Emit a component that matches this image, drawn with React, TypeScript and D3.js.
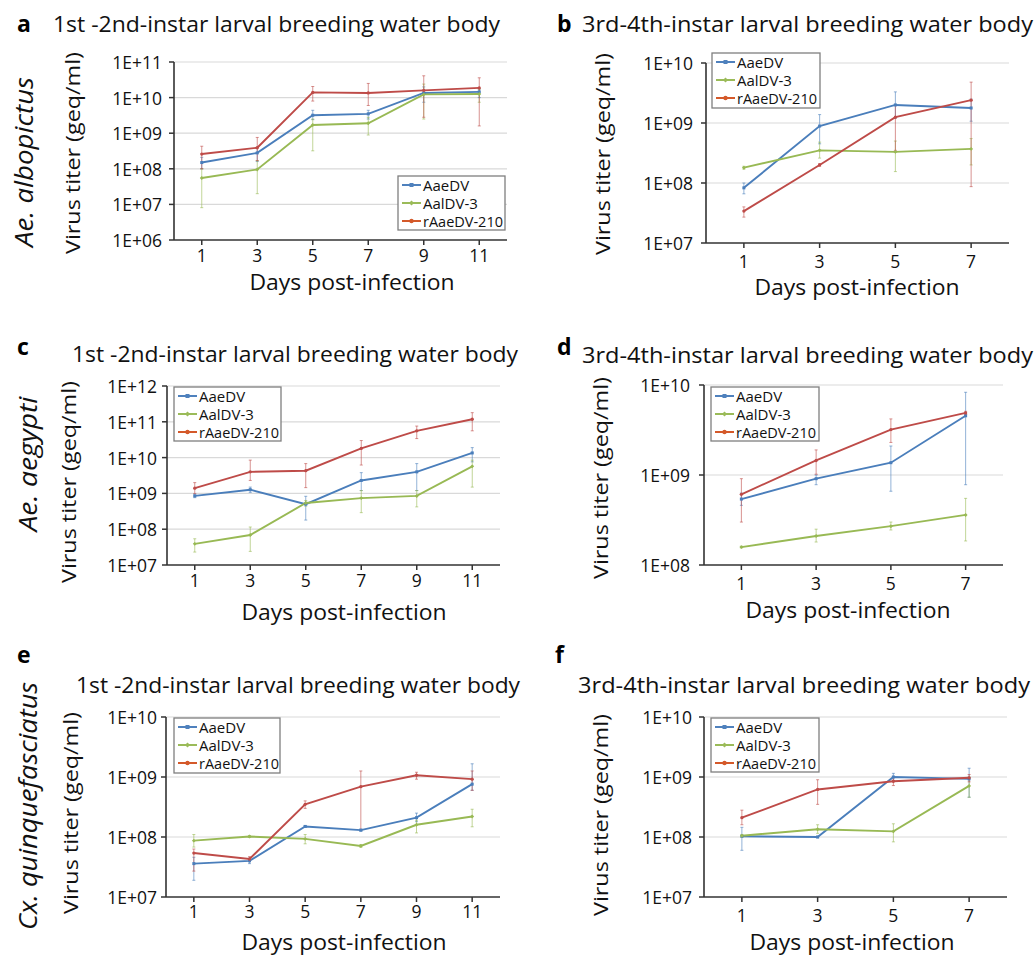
import React from "react";
import * as d3 from "d3";

// ---------- data ----------
const seriesNames = ["AaeDV", "AalDV-3", "rAaeDV-210"];
const daysLong = [1, 3, 5, 7, 9, 11];
const daysShort = [1, 3, 5, 7];
const yTicksA = [1e6, 1e7, 1e8, 1e9, 1e10, 1e11];
const yTicksB = [1e7, 1e8, 1e9, 1e10];
const yTicksC = [1e7, 1e8, 1e9, 1e10, 1e11, 1e12];
const yTicksD = [1e8, 1e9, 1e10];
const yTicksE = [1e7, 1e8, 1e9, 1e10];
const yTicksF = [1e7, 1e8, 1e9, 1e10];

const titleEarly = "1st -2nd-instar larval breeding water body";
const titleLate = "3rd-4th-instar larval breeding water body";
const yAxisTitle = "Virus titer (geq/ml)";
const xAxisTitle = "Days post-infection";

// [mean, lower, upper]
const a_AaeDV = [[1.5e8, 1.0e8, 2.1e8], [2.8e8, 1.6e8, 4.0e8], [3.2e9, 2.4e9, 4.4e9], [3.5e9, 2.5e9, 4.4e9], [1.35e10, 7.4e9, 2.0e10], [1.45e10, 1.0e10, 1.75e10]];
const a_AalDV3 = [[5.5e7, 8.1e6, 1.0e8], [9.6e7, 2.0e7, 1.7e8], [1.7e9, 3.2e8, 2.5e9], [1.9e9, 8.9e8, 2.8e9], [1.23e10, 2.5e9, 2.4e10], [1.26e10, 7.4e9, 1.75e10]];
const a_rAaeDV = [[2.6e8, 1.0e8, 4.3e8], [3.9e8, 1.7e8, 7.6e8], [1.4e10, 8e9, 2.05e10], [1.35e10, 6e9, 2.5e10], [1.6e10, 2.8e9, 4.1e10], [1.87e10, 1.6e9, 3.6e10]];

const b_AaeDV = [[8.3e7, 6.6e7, 1.0e8], [8.9e8, 4.5e8, 1.38e9], [2.0e9, 1.2e9, 3.3e9], [1.78e9, 1.07e9, 2.5e9]];
const b_AalDV3 = [[1.8e8, 1.7e8, 1.9e8], [3.5e8, 2.6e8, 4.8e8], [3.3e8, 1.55e8, 5.0e8], [3.7e8, 2.0e8, 5.5e8]];
const b_rAaeDV = [[3.4e7, 2.7e7, 4.0e7], [2.0e8, 1.9e8, 2.1e8], [1.25e9, 3.5e8, 2.0e9], [2.4e9, 8.7e7, 4.8e9]];

const c_AaeDV = [[8.5e8, 7.6e8, 9.6e8], [1.27e9, 1.07e9, 1.5e9], [5.0e8, 1.8e8, 8.3e8], [2.3e9, 1.2e9, 3.8e9], [4.0e9, 1.2e9, 6.8e9], [1.35e10, 7.6e9, 1.9e10]];
const c_AalDV3 = [[3.9e7, 2.3e7, 5.4e7], [6.9e7, 2.4e7, 1.15e8], [5.4e8, 4.4e8, 6.3e8], [7.4e8, 2.9e8, 1.2e9], [8.5e8, 4.2e8, 1.2e9], [5.7e9, 1.5e9, 8.5e9]];
const c_rAaeDV = [[1.4e9, 9.8e8, 2.0e9], [4.0e9, 2.3e9, 8.5e9], [4.3e9, 1.45e9, 6.8e9], [1.8e10, 6.2e9, 3.0e10], [5.6e10, 3.4e10, 7.6e10], [1.18e11, 5.6e10, 1.8e11]];

const d_AaeDV = [[5.4e8, 4.6e8, 6.3e8], [9.1e8, 7.8e8, 1.0e9], [1.37e9, 6.6e8, 2.1e9], [4.55e9, 7.8e8, 8.3e9]];
const d_AalDV3 = [[1.58e8, 1.55e8, 1.62e8], [2.1e8, 1.8e8, 2.5e8], [2.7e8, 2.45e8, 3.0e8], [3.6e8, 1.85e8, 5.5e8]];
const d_rAaeDV = [[6.1e8, 3.0e8, 9.1e8], [1.45e9, 1.02e9, 1.9e9], [3.2e9, 2.3e9, 4.2e9], [4.9e9, 4.7e9, 5.1e9]];

const e_AaeDV = [[3.6e7, 1.9e7, 4.6e7], [4.0e7, 3.6e7, 4.4e7], [1.5e8, 1.45e8, 1.55e8], [1.3e8, 1.25e8, 1.35e8], [2.1e8, 1.8e8, 2.5e8], [7.6e8, 6.0e8, 1.66e9]];
const e_AalDV3 = [[8.7e7, 6.8e7, 1.1e8], [1.02e8, 9.8e7, 1.06e8], [9.3e7, 7.7e7, 1.1e8], [7.1e7, 6.7e7, 7.5e7], [1.6e8, 1.17e8, 1.9e8], [2.2e8, 1.48e8, 2.9e8]];
const e_rAaeDV = [[5.4e7, 2.7e7, 6.3e7], [4.3e7, 3.9e7, 4.7e7], [3.5e8, 3.0e8, 4.0e8], [6.9e8, 1.3e8, 1.26e9], [1.07e9, 9.2e8, 1.2e9], [9.2e8, 6.0e8, 1.26e9]];

const f_AaeDV = [[1.03e8, 6.0e7, 1.45e8], [1.0e8, 9.7e7, 1.03e8], [1.0e9, 8.8e8, 1.15e9], [9.3e8, 4.6e8, 1.4e9]];
const f_AalDV3 = [[1.05e8, 1.0e8, 1.1e8], [1.35e8, 1.15e8, 1.6e8], [1.24e8, 8.3e7, 1.66e8], [7.1e8, 4.6e8, 1.0e9]];
const f_rAaeDV = [[2.1e8, 1.6e8, 2.8e8], [6.2e8, 3.5e8, 9.0e8], [8.5e8, 7.2e8, 1.0e9], [9.7e8, 8.3e8, 1.1e9]];

// ---------- styles ----------
const lineColors = ["#4A7EBB", "#98B954", "#BE4B48"];
const legendColors = ["#4F81BD", "#9BBB59", "#D4592A"];
const FONT = "'Open Sans', 'Noto Sans', sans-serif";

const panels = [
  {
    letter: "a", title: titleEarly, days: daysLong, ticks: yTicksA, data: [a_AaeDV, a_AalDV3, a_rAaeDV],
    x0: 174, x1: 507, yTop: 62, yBot: 240,
    letterPos: [17, 32], titlePos: [53, 32, 447], species: { text: "albopictus", pre: "Ae. ", x: 23, y: 162, w: 170 },
    ylab: [72, 153], xlabY: 262, xtitle: [352, 290], tickRight: 162, legend: [398, 176, 107, 54],
  },
  {
    letter: "b", title: titleLate, days: daysShort, ticks: yTicksB, data: [b_AaeDV, b_AalDV3, b_rAaeDV],
    x0: 706, x1: 1009, yTop: 63, yBot: 243,
    letterPos: [557, 32], titlePos: [582, 32, 451], species: null,
    ylab: [602, 154], xlabY: 268, xtitle: [857, 295], tickRight: 693, legend: [712, 53, 108, 55],
  },
  {
    letter: "c", title: titleEarly, days: daysLong, ticks: yTicksC, data: [c_AaeDV, c_AalDV3, c_rAaeDV],
    x0: 167, x1: 500, yTop: 386, yBot: 565,
    letterPos: [17, 355], titlePos: [72, 362, 446], species: { text: "aegypti", pre: "Ae. ", x: 27, y: 464, w: 135 },
    ylab: [68, 482], xlabY: 587, xtitle: [344, 620], tickRight: 157, legend: [174, 387, 107, 54],
  },
  {
    letter: "d", title: titleLate, days: daysShort, ticks: yTicksD, data: [d_AaeDV, d_AalDV3, d_rAaeDV],
    x0: 704, x1: 1003, yTop: 385, yBot: 565,
    letterPos: [557, 355], titlePos: [582, 363, 451], species: null,
    ylab: [600, 478], xlabY: 590, xtitle: [848, 618], tickRight: 690, legend: [711, 387, 108, 54],
  },
  {
    letter: "e", title: titleEarly, days: daysLong, ticks: yTicksE, data: [e_AaeDV, e_AalDV3, e_rAaeDV],
    x0: 166, x1: 500, yTop: 717, yBot: 897,
    letterPos: [17, 663], titlePos: [76, 693, 444], species: { text: "quinquefasciatus", pre: "Cx. ", x: 27, y: 806, w: 248 },
    ylab: [70, 813], xlabY: 918, xtitle: [344, 950], tickRight: 157, legend: [174, 718, 106, 55],
  },
  {
    letter: "f", title: titleLate, days: daysShort, ticks: yTicksF, data: [f_AaeDV, f_AalDV3, f_rAaeDV],
    x0: 704, x1: 1007, yTop: 717, yBot: 897,
    letterPos: [555, 663], titlePos: [578, 693, 452], species: null,
    ylab: [600, 815], xlabY: 922, xtitle: [852, 950], tickRight: 692, legend: [711, 718, 108, 54],
  },
];

const fmtTick = (v: number) => {
  const e = Math.round(Math.log10(v));
  return "1E+" + String(e).padStart(2, "0");
};

function Marker({ i, x, y, color, s = 1 }: { i: number; x: number; y: number; color: string; s?: number }) {
  if (i === 0) return <rect x={x - 2 * s} y={y - 2 * s} width={4 * s} height={4 * s} fill={color} />;
  if (i === 1)
    return (
      <path
        d={`M${x},${y - 2.6 * s}L${x + 2.6 * s},${y}L${x},${y + 2.6 * s}L${x - 2.6 * s},${y}Z`}
        fill={color}
      />
    );
  return <circle cx={x} cy={y} r={2.2 * s} fill={color} />;
}

function Panel({ p }: { p: any }) {
  const x = d3.scaleBand<number>().domain(p.days).range([p.x0, p.x1]).padding(0);
  const cx = (d: number) => (x(d) as number) + x.bandwidth() / 2;
  const yMin = p.ticks[0];
  const yMax = p.ticks[p.ticks.length - 1];
  const y = d3.scaleLog().domain([yMin, yMax]).range([p.yBot, p.yTop]);
  const line = d3
    .line<number[]>()
    .x((_, i) => cx(p.days[i]))
    .y((d) => y(d[0]));
  const [lx, ly, lw, lh] = p.legend;
  return (
    <g>
      {/* letter + title */}
      <text x={p.letterPos[0]} y={p.letterPos[1]} fontSize={23} fontWeight={700} fontFamily={FONT} fill="#000">
        {p.letter}
      </text>
      <text
        x={p.titlePos[0]}
        y={p.titlePos[1]}
        fontSize={21}
        fontFamily={FONT}
        fill="#111"
        textLength={p.titlePos[2]}
        lengthAdjust="spacingAndGlyphs"
      >
        {p.title}
      </text>
      {p.species && (
        <text
          transform={`translate(${p.species.x},${p.species.y}) rotate(-90)`}
          textAnchor="middle"
          dominantBaseline="central"
          fontSize={26}
          fontFamily={FONT}
          fontStyle="italic"
          fill="#111"
          textLength={p.species.w}
          lengthAdjust="spacingAndGlyphs"
        >
          {p.species.pre}
          {p.species.text}
        </text>
      )}
      <text
        transform={`translate(${p.ylab[0]},${p.ylab[1]}) rotate(-90)`}
        textAnchor="middle"
        dominantBaseline="central"
        fontSize={20.5}
        fontFamily={FONT}
        fill="#111"
        textLength={202}
        lengthAdjust="spacingAndGlyphs"
      >
        {yAxisTitle}
      </text>
      {/* grid */}
      {p.ticks.slice(1).map((t: number) => (
        <line key={"g" + t} x1={p.x0} x2={p.x1} y1={y(t)} y2={y(t)} stroke="#D9D9D9" strokeWidth={1.2} />
      ))}
      {/* y ticks + labels */}
      {p.ticks.map((t: number) => (
        <g key={"t" + t}>
          <line x1={p.x0 - 5} x2={p.x0} y1={y(t)} y2={y(t)} stroke="#333" strokeWidth={1.5} />
          <text
            x={p.tickRight}
            y={y(t)}
            textAnchor="end"
            dominantBaseline="central"
            fontSize={17.5}
            fontFamily={FONT}
            fill="#111"
          >
            {fmtTick(t)}
          </text>
        </g>
      ))}
      {/* x ticks + labels */}
      {p.days.map((d: number) => (
        <g key={"x" + d}>
          <line x1={cx(d)} x2={cx(d)} y1={p.yBot} y2={p.yBot + 5} stroke="#333" strokeWidth={1.5} />
          <text x={cx(d)} y={p.xlabY} textAnchor="middle" fontSize={17.5} fontFamily={FONT} fill="#111">
            {d}
          </text>
        </g>
      ))}
      <text
        x={p.xtitle[0]}
        y={p.xtitle[1]}
        textAnchor="middle"
        fontSize={21}
        fontFamily={FONT}
        fill="#111"
        textLength={205}
        lengthAdjust="spacingAndGlyphs"
      >
        {xAxisTitle}
      </text>
      {/* axes */}
      <line x1={p.x0} x2={p.x0} y1={p.yTop} y2={p.yBot} stroke="#333" strokeWidth={1.6} />
      <line x1={p.x0} x2={p.x1} y1={p.yBot} y2={p.yBot} stroke="#333" strokeWidth={1.6} />
      {/* error bars */}
      {p.data.map((s: number[][], si: number) =>
        s.map((d, i) => {
          const xx = cx(p.days[i]);
          return (
            <g key={`e${si}-${i}`} stroke={lineColors[si]} strokeOpacity={0.6} strokeWidth={1}>
              <line x1={xx} x2={xx} y1={y(d[1])} y2={y(d[2])} />
              <line x1={xx - 1.5} x2={xx + 1.5} y1={y(d[1])} y2={y(d[1])} />
              <line x1={xx - 1.5} x2={xx + 1.5} y1={y(d[2])} y2={y(d[2])} />
            </g>
          );
        })
      )}
      {/* lines */}
      {p.data.map((s: number[][], si: number) => (
        <path key={"l" + si} d={line(s) || ""} fill="none" stroke={lineColors[si]} strokeWidth={1.9} />
      ))}
      {p.data.map((s: number[][], si: number) =>
        s.map((d, i) => <Marker key={`m${si}-${i}`} i={si} x={cx(p.days[i])} y={y(d[0])} color={lineColors[si]} s={0.75} />)
      )}
      {/* legend */}
      <rect x={lx} y={ly} width={lw} height={lh} fill="#fff" stroke="#7F7F7F" strokeWidth={1.3} />
      {seriesNames.map((n, i) => {
        const yy = ly + 9 + i * 18;
        return (
          <g key={"lg" + n}>
            <line x1={lx + 4} x2={lx + 23} y1={yy} y2={yy} stroke={legendColors[i]} strokeWidth={2} />
            <Marker i={i} x={lx + 13.5} y={yy} color={legendColors[i]} s={1} />
            <text
              x={lx + 25}
              y={yy}
              dominantBaseline="central"
              fontSize={15}
              fontFamily={FONT}
              fill="#111"
              textLength={n === "rAaeDV-210" ? 80 : undefined}
              lengthAdjust="spacingAndGlyphs"
            >
              {n}
            </text>
          </g>
        );
      })}
    </g>
  );
}

export default function App() {
  return (
    <svg
      width={1035}
      height={956}
      viewBox="0 0 1035 956"
      style={{ position: "absolute", left: 0, top: 0, background: "#fff" }}
    >
      <rect width={1035} height={956} fill="#fff" />
      {panels.map((p) => (
        <Panel key={p.letter} p={p} />
      ))}
    </svg>
  );
}
